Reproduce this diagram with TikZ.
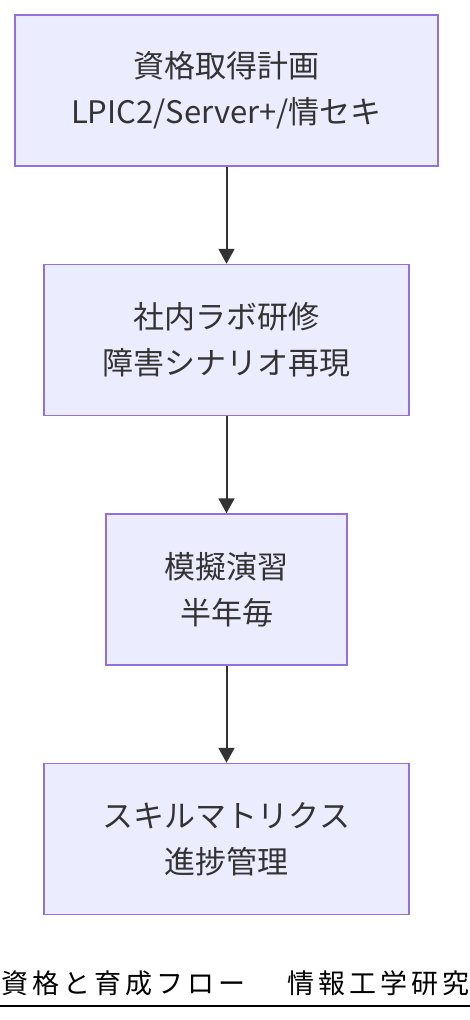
\documentclass[tikz,border=0pt]{standalone}
\usepackage{fontspec}
\setmainfont{Noto Sans CJK JP}
\usetikzlibrary{positioning}
\usetikzlibrary{arrows.meta}
\definecolor{Node-fill}{HTML}{ECECFF}
\definecolor{Node-line}{HTML}{9370DB}
\definecolor{Edge-line}{HTML}{333333}
\begin{document}
\begin{tikzpicture}
    \tikzset{ stage/.style   ={draw=Node-line, line width=1.5pt, fill=Node-fill, text=Edge-line, align=center, inner sep=0pt, minimum height=151pt, font=\fontsize{31pt}{46pt}\selectfont} }
    \tikzset{ flow/.style    ={->, >={Triangle[width=16pt,length=15pt]}, draw=Edge-line, line width=2pt} }
    \tikzset{ figtitle/.style={anchor=base west, inner sep=0pt, text=black, font=\fontsize{27pt}{30pt}\selectfont\addfontfeature{LetterSpace=15}} }

    \useasboundingbox (0pt,0pt) rectangle (470pt,-1020pt);

    \node[stage, minimum width=423pt                     ] (plan)  at (226.5pt,-90.5pt) {資格取得計画\\LPIC2/Server+/情セキ};
    \node[stage, minimum width=365pt, below=97pt of plan ] (lab)   {社内ラボ研修\\障害シナリオ再現};
    \node[stage, minimum width=241pt, below=97pt of lab  ] (drill) {模擬演習\\半年毎};
    \node[stage, minimum width=365pt, below=97pt of drill] (skill) {スキルマトリクス\\進捗管理};

    \draw[flow] (plan)  -- (lab);
    \draw[flow] (lab)   -- (drill);
    \draw[flow] (drill) -- (skill);

    \node[figtitle] (title) at (1pt,-993pt) {資格と育成フロー　\hspace{11pt}情報工学研究};
    \draw[black, line width=1.5pt] (0pt,-1006pt) -- (470pt,-1006pt);
  \end{tikzpicture}
\end{document}
